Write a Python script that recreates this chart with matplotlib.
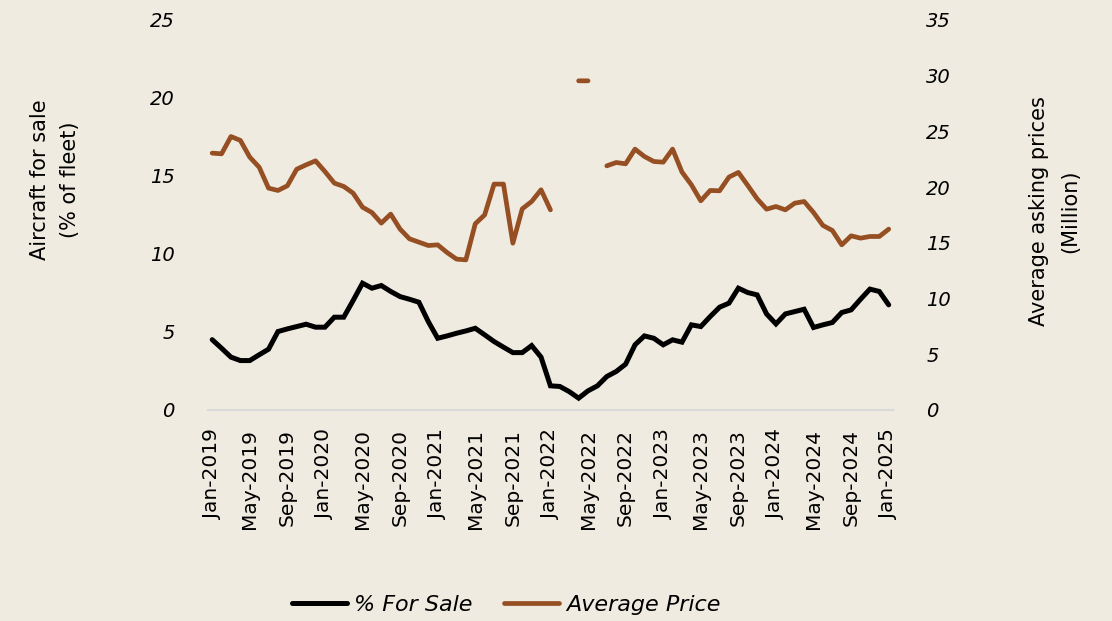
import numpy as np
import pandas as pd
import matplotlib
matplotlib.use("Agg")
import matplotlib.pyplot as plt

# monthly series, Jan-2019 .. Jan-2025
months = pd.date_range("2019-01-01", "2025-01-01", freq="MS")
tick_labels = [d.strftime("%b-%Y") for d in months]

pct_for_sale = [
    4.5, 3.95, 3.38, 3.16, 3.16, 3.53, 3.89, 5.02, 5.19, 5.34, 5.49, 5.30,
    5.30, 5.94, 5.94, 7.01, 8.12, 7.80, 7.97, 7.59, 7.26, 7.09, 6.90, 5.66,
    4.59, 4.74, 4.91, 5.06, 5.23, 4.81, 4.38, 4.02, 3.67, 3.67, 4.12, 3.38,
    1.54, 1.50, 1.17, 0.75, 1.22, 1.54, 2.14, 2.46, 2.93, 4.17, 4.74, 4.59,
    4.17, 4.49, 4.34, 5.45, 5.34, 5.98, 6.58, 6.84, 7.80, 7.52, 7.37, 6.15,
    5.51, 6.15, 6.30, 6.45, 5.28, 5.45, 5.60, 6.24, 6.41, 7.09, 7.74, 7.59,
    6.73,
]

nan = np.nan
avg_price = [
    23.04, 22.98, 24.53, 24.18, 22.68, 21.78, 19.90, 19.69, 20.11, 21.60, 21.99, 22.35,
    21.39, 20.35, 20.05, 19.45, 18.19, 17.71, 16.76, 17.57, 16.22, 15.35, 15.05, 14.75,
    14.81, 14.12, 13.53, 13.46, 16.70, 17.50, 20.26, 20.26, 14.96, 18.04, 18.70, 19.75,
    17.95, nan, nan, 29.53, 29.53, nan, 21.90, 22.20, 22.08, 23.40, 22.74, 22.29,
    22.23, 23.40, 21.34, 20.20, 18.76, 19.69, 19.66, 20.89, 21.31, 20.14, 18.94, 18.01,
    18.25, 17.95, 18.55, 18.70, 17.71, 16.55, 16.10, 14.81, 15.62, 15.41, 15.56, 15.56,
    16.22,
]

bg = "#efebe0"
brown = "#964f23"

plt.rcParams["font.family"] = ["DejaVu Sans"]

fig = plt.figure(figsize=(11.12, 6.21), dpi=100, facecolor=bg)
ax = fig.add_axes([0.187, 0.340, 0.616, 0.628])
ax.set_facecolor(bg)
ax2 = ax.twinx()

x = np.arange(len(months))
l1, = ax.plot(x, pct_for_sale, color="black", lw=3.6, solid_joinstyle="miter",
              solid_capstyle="round", label="% For Sale", zorder=3)
l2, = ax2.plot(x, avg_price, color=brown, lw=3.4, solid_capstyle="round",
               label="Average Price")

ax.set_xlim(-0.45, 72.45)
ax.set_ylim(0, 25)
ax2.set_ylim(0, 35)
ax.set_yticks(range(0, 26, 5))
ax2.set_yticks(range(0, 36, 5))
ax.set_xticks(x[::4])
ax.set_xticklabels(tick_labels[::4], rotation=90, fontsize=14.5)

for a in (ax, ax2):
    for s in a.spines.values():
        s.set_visible(False)
    a.tick_params(length=0)
ax.spines["bottom"].set_visible(True)
ax.spines["bottom"].set_color("#d9d9d9")
ax.spines["bottom"].set_linewidth(1.5)

ax.tick_params(axis="y", pad=24, labelsize=14)
ax2.tick_params(axis="y", pad=24, labelsize=14)
ax.tick_params(axis="x", pad=14)
for t in ax.get_yticklabels() + ax2.get_yticklabels():
    t.set_fontstyle("italic")

ax.set_ylabel("Aircraft for sale\n(% of fleet)", fontsize=15, linespacing=1.6)
ax.yaxis.set_label_coords(-0.187, 0.59)
ax2.set_ylabel("Average asking prices\n(Million)", fontsize=15, linespacing=1.7)
ax2.yaxis.set_label_coords(1.199, 0.51)

leg = fig.legend(handles=[l1, l2], loc="center", ncol=2, frameon=False,
                 bbox_to_anchor=(506 / 1112, 1 - 605 / 621),
                 prop={"style": "italic", "size": 16},
                 handlelength=2.5, handletextpad=0.3, columnspacing=1.4)

fig.savefig("out.png", dpi=100, facecolor=bg)
